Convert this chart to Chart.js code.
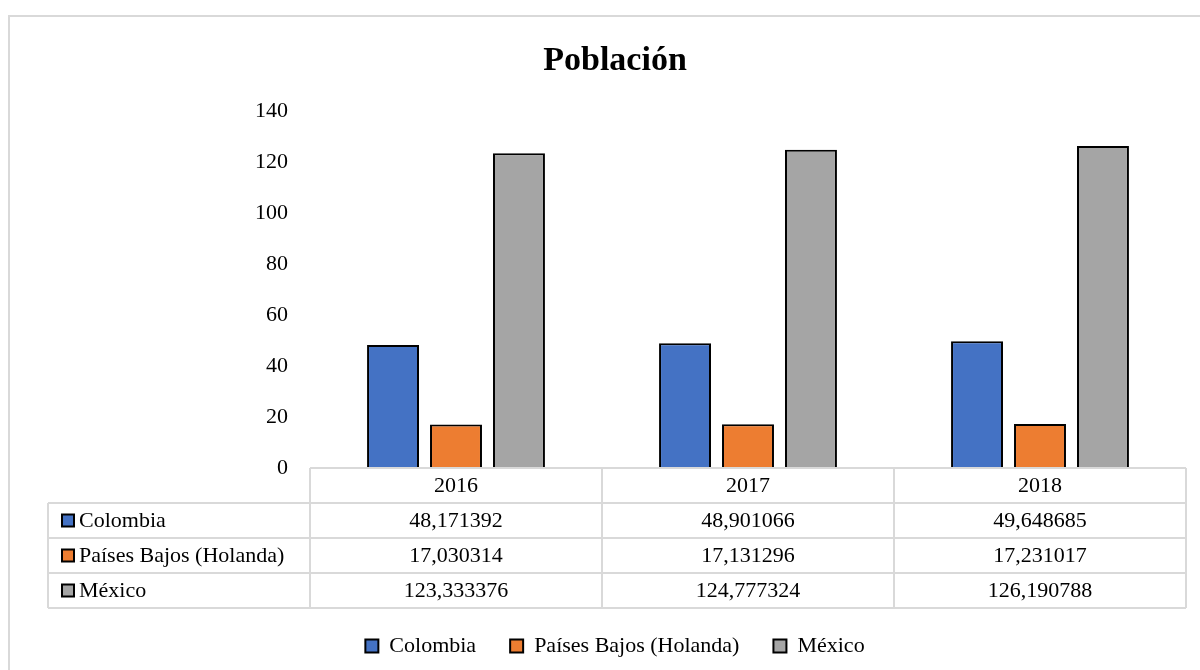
<!DOCTYPE html>
<html>
<head>
<meta charset="utf-8">
<script src="https://cdn.jsdelivr.net/npm/chart.js@4/dist/chart.umd.min.js"></script>
<style>
  html, body { margin: 0; padding: 0; background: #fff; }
  #wrap { position: relative; width: 1200px; height: 670px; }
  canvas { display: block; }
</style>
</head>
<body>
<div id="wrap"><canvas id="c" width="1200" height="670"></canvas></div>
<script>
const categories = ['2016', '2017', '2018'];
const seriesNames = ['Colombia', 'Países Bajos (Holanda)', 'México'];
const colombia = [48.171392, 48.901066, 49.648685];
const paisesBajos = [17.030314, 17.131296, 17.231017];
const mexico = [123.333376, 124.777324, 126.190788];
const yTicks = [0, 20, 40, 60, 80, 100, 120, 140];
const colors = ['#4472C4', '#ED7D31', '#A5A5A5'];

const FONT = '"Liberation Serif", "Times New Roman", serif';
const seriesValues = [colombia, paisesBajos, mexico];

function fmt(v) { return String(v).replace('.', ','); }

const ROW_H = 35;
const TABLE_LEFT = 48;
const GRID_COLOR = '#d9d9d9';

const borderPlugin = {
  id: 'outerBorder',
  beforeDraw(chart) {
    const ctx = chart.ctx;
    ctx.save();
    ctx.fillStyle = '#fff';
    ctx.fillRect(0, 0, chart.width, chart.height);
    ctx.strokeStyle = GRID_COLOR;
    ctx.lineWidth = 2;
    ctx.strokeRect(9, 16, 1200, 700);
    ctx.restore();
  }
};

const tablePlugin = {
  id: 'dataTable',
  afterDraw(chart) {
    const ctx = chart.ctx;
    const xs = chart.scales.x;
    const area = chart.chartArea;
    const n = categories.length;
    const colW = (area.right - area.left) / n;
    const top = area.bottom;
    const rows = seriesNames.length;
    const bottom = top + ROW_H * (rows + 1);
    ctx.save();
    ctx.strokeStyle = GRID_COLOR;
    ctx.lineWidth = 2;
    ctx.beginPath();
    ctx.moveTo(area.left, top); ctx.lineTo(area.right, top);
    for (let r = 1; r <= rows + 1; r++) {
      const y = top + r * ROW_H;
      ctx.moveTo(TABLE_LEFT, y); ctx.lineTo(area.right, y);
    }
    ctx.moveTo(TABLE_LEFT, top + ROW_H); ctx.lineTo(TABLE_LEFT, bottom);
    for (let i = 0; i <= n; i++) {
      const x = area.left + i * colW;
      ctx.moveTo(x, top); ctx.lineTo(x, bottom);
    }
    ctx.stroke();

    ctx.fillStyle = '#000';
    ctx.font = '22px ' + FONT;
    ctx.textBaseline = 'middle';
    ctx.textAlign = 'center';
    for (let i = 0; i < n; i++) {
      const cx = xs.getPixelForValue(i);
      ctx.fillText(categories[i], cx, top + ROW_H / 2 + 1);
      for (let r = 0; r < rows; r++) {
        ctx.fillText(fmt(seriesValues[r][i]), cx, top + (r + 1) * ROW_H + ROW_H / 2 + 1);
      }
    }
    ctx.textAlign = 'left';
    for (let r = 0; r < rows; r++) {
      const cy = top + (r + 1) * ROW_H + ROW_H / 2;
      ctx.fillStyle = colors[r];
      ctx.fillRect(62, cy - 6, 12, 12);
      ctx.strokeStyle = '#000';
      ctx.lineWidth = 2;
      ctx.strokeRect(62, cy - 6, 12, 12);
      ctx.fillStyle = '#000';
      ctx.fillText(seriesNames[r], 79, cy + 1);
    }
    ctx.restore();
  }
};

new Chart(document.getElementById('c'), {
  type: 'bar',
  data: {
    labels: categories,
    datasets: seriesNames.map((name, i) => ({
      label: name,
      data: seriesValues[i],
      backgroundColor: colors[i],
      borderColor: '#000',
      borderWidth: 2,
      categoryPercentage: 0.647,
      barPercentage: 0.825
    }))
  },
  options: {
    responsive: false,
    animation: false,
    layout: { padding: { top: 41, left: 44, right: 14, bottom: 3 } },
    plugins: {
      title: {
        display: true,
        text: 'Población',
        color: '#000',
        font: { family: FONT, size: 34, weight: 'bold' },
        padding: { top: 0, bottom: 29 }
      },
      legend: {
        position: 'bottom',
        labels: {
          color: '#000',
          font: { family: FONT, size: 22 },
          boxWidth: 13,
          boxHeight: 13,
          padding: 34
        }
      },
      tooltip: { enabled: false }
    },
    scales: {
      x: {
        display: true,
        grid: { display: false, drawTicks: false },
        border: { display: false },
        ticks: { display: false },
        afterFit(scale) { scale.height = 133; }
      },
      y: {
        min: 0,
        max: 140,
        afterBuildTicks(scale) { scale.ticks = yTicks.map(v => ({ value: v })); },
        grid: { display: false, drawTicks: false },
        border: { display: false },
        ticks: {
          color: '#000',
          font: { family: FONT, size: 22 },
          padding: 22
        },
        afterFit(scale) { scale.width = 266; }
      }
    }
  },
  plugins: [borderPlugin, tablePlugin]
});
</script>
</body>
</html>
